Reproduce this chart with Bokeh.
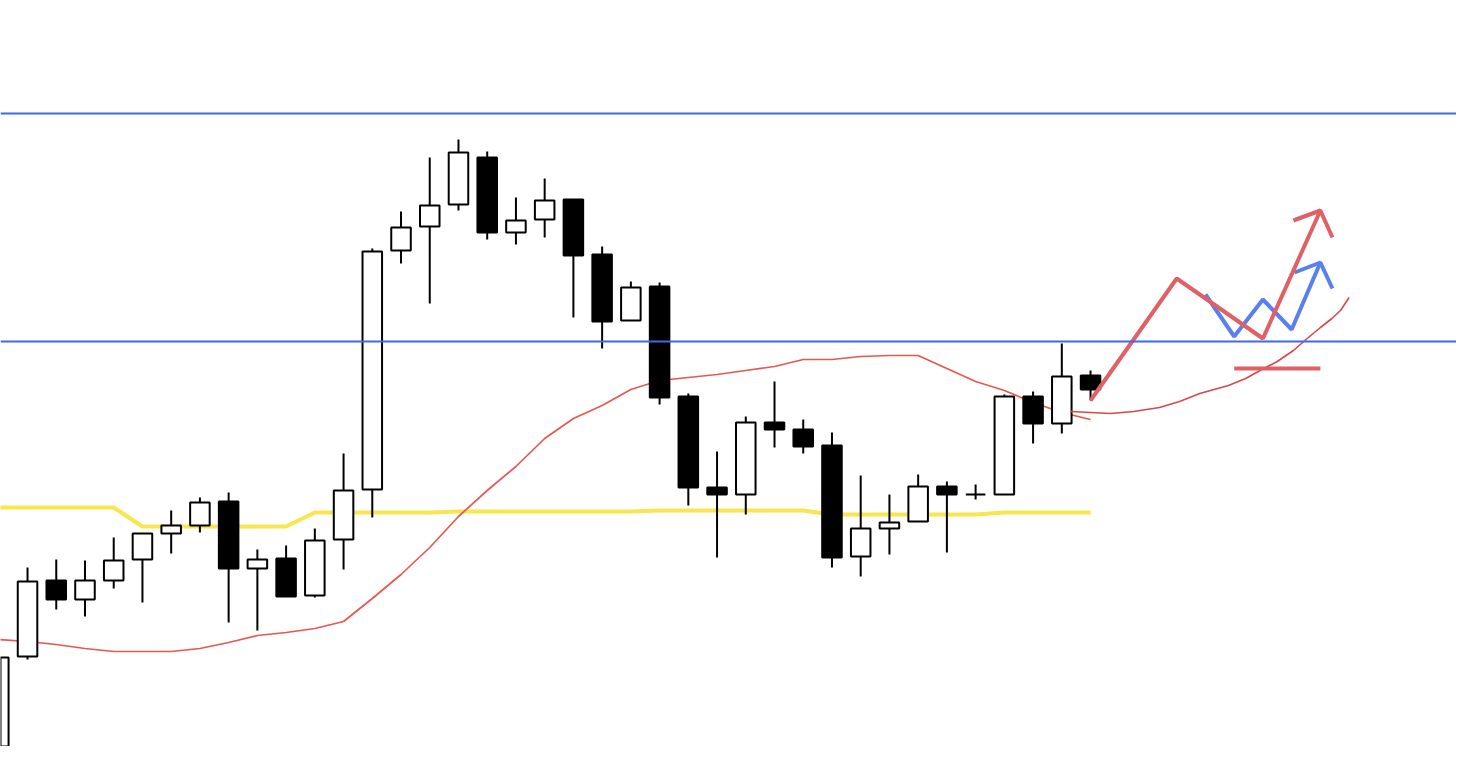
from bokeh.plotting import figure
from bokeh.embed import file_html
from bokeh.resources import INLINE
from bokeh.models import Range1d, ColumnDataSource, Span

# ---- candle data (arbitrary price units) ----
opens  = [146.50, 147.44, 148.20, 148.01, 148.20, 148.41, 148.67, 148.75, 148.99, 148.32,
          148.42, 148.05, 148.61, 149.11, 151.50, 151.74, 151.96, 152.43, 151.68, 151.81,
          152.01, 151.46, 150.80, 151.14, 150.04, 149.13, 149.06, 149.78, 149.71, 149.55,
          148.44, 148.72, 148.79, 149.14, 149.06, 149.06, 150.04, 149.77, 150.25]
highs  = [147.43, 148.33, 148.41, 148.40, 148.63, 148.67, 148.90, 149.03, 149.08, 148.51,
          148.55, 148.72, 149.47, 151.52, 151.89, 152.43, 152.61, 152.49, 152.03, 152.22,
          152.01, 151.54, 151.19, 151.18, 150.07, 149.49, 149.84, 150.19, 149.81, 149.68,
          149.25, 149.06, 149.26, 149.19, 149.16, 150.06, 150.09, 150.57, 150.30]
lows   = [146.48, 147.41, 147.91, 147.84, 148.12, 147.98, 148.47, 148.68, 147.78, 147.70,
          148.04, 148.03, 148.31, 148.83, 151.37, 150.97, 151.90, 151.61, 151.56, 151.63,
          150.83, 150.52, 150.80, 149.96, 148.95, 148.43, 148.86, 149.53, 149.47, 148.33,
          148.24, 148.46, 148.79, 148.48, 149.01, 149.06, 149.57, 149.67, 150.00]
closes = [147.43, 148.19, 148.01, 148.20, 148.40, 148.67, 148.75, 148.98, 148.32, 148.41,
          148.04, 148.60, 149.10, 151.49, 151.73, 151.95, 152.48, 151.68, 151.80, 152.00,
          151.45, 150.79, 151.13, 150.03, 149.13, 149.06, 149.78, 149.71, 149.54, 148.43,
          148.72, 148.78, 149.14, 149.06, 149.06, 150.04, 149.77, 150.24, 150.11]

# ---- indicator lines ----
ma_red = [147.61, 147.59, 147.56, 147.52, 147.49, 147.49, 147.49, 147.52, 147.58, 147.65,
          147.68, 147.72, 147.79, 148.02, 148.26, 148.53, 148.84, 149.10, 149.34, 149.62,
          149.82, 149.95, 150.11, 150.20, 150.23, 150.26, 150.30, 150.34, 150.41, 150.41,
          150.44, 150.45, 150.45, 150.32, 150.19, 150.10, 149.98, 149.88, 149.81]
ma_yellow = [148.93, 148.93, 148.93, 148.93, 148.93, 148.74, 148.74, 148.74, 148.74, 148.74,
             148.74, 148.88, 148.88, 148.88, 148.88, 148.88, 148.89, 148.89, 148.89, 148.89,
             148.89, 148.89, 148.89, 148.90, 148.90, 148.90, 148.90, 148.90, 148.90, 148.86,
             148.86, 148.86, 148.86, 148.86, 148.86, 148.88, 148.88, 148.88, 148.88]

# ---- horizontal levels ----
levels = [152.87, 150.59]

# ---- hand-drawn scenario annotations ----
red_path_x = [38, 41, 44, 46]
red_path_y = [150.00, 151.22, 150.62, 151.90]
red_head_x = [45.06, 46, 46.42]
red_head_y = [151.80, 151.90, 151.63]
blue_path_x = [42, 43, 44, 45, 46]
blue_path_y = [151.06, 150.64, 151.01, 150.71, 151.38]
blue_head_x = [45.1, 46, 46.42]
blue_head_y = [151.28, 151.38, 151.12]
stop_x = [43, 46]
stop_y = [150.32, 150.32]
curve_x = [37.3, 38.0, 38.7, 39.5, 40.4, 41.1, 41.8, 42.3, 42.8, 43.4, 43.9, 44.5,
           45.06, 45.5, 46.0, 46.4, 46.7, 47.0]
curve_y = [149.89, 149.88, 149.87, 149.89, 149.93, 149.99, 150.07, 150.11, 150.15, 150.22,
           150.30, 150.39, 150.50, 150.61, 150.73, 150.82, 150.90, 151.03]

idx = list(range(len(opens)))
up = [c >= o for o, c in zip(opens, closes)]
src = ColumnDataSource(dict(
    x=idx, o=opens, h=highs, l=lows, c=closes,
    top=[max(o, c) for o, c in zip(opens, closes)],
    bot=[min(o, c) for o, c in zip(opens, closes)],
    fill=["white" if u else "black" for u in up],
))

p = figure(width=1456, height=746, output_backend="svg", toolbar_location=None,
           x_axis_type=None, y_axis_type=None,
           x_range=Range1d(0.0592, 50.738), y_range=Range1d(146.54, 154.0),
           min_border=0, outline_line_color=None, background_fill_color="white")
p.grid.visible = False

p.line(idx, ma_yellow, line_color="#F9E54F", line_width=4)
p.line(idx, ma_red, line_color="#E8574F", line_width=1.7)

p.segment(x0="x", y0="h", x1="x", y1="l", source=src, line_color="black", line_width=2)
p.vbar(x="x", top="top", bottom="bot", width=0.68, source=src,
       fill_color="fill", line_color="black", line_width=2)

for lv in levels:
    p.add_layout(Span(location=lv, dimension="width", line_color="#3F66EE", line_width=2))

p.line(curve_x, curve_y, line_color="#D94848", line_width=1.6)
p.line(stop_x, stop_y, line_color="#E06066", line_width=4)
p.line(blue_path_x, blue_path_y, line_color="#5A7FF0", line_width=4)
p.line(blue_head_x, blue_head_y, line_color="#5A7FF0", line_width=4)
p.line(red_path_x, red_path_y, line_color="#E06066", line_width=4)
p.line(red_head_x, red_head_y, line_color="#E06066", line_width=4)

open("out.html", "w").write(file_html(p, INLINE))
